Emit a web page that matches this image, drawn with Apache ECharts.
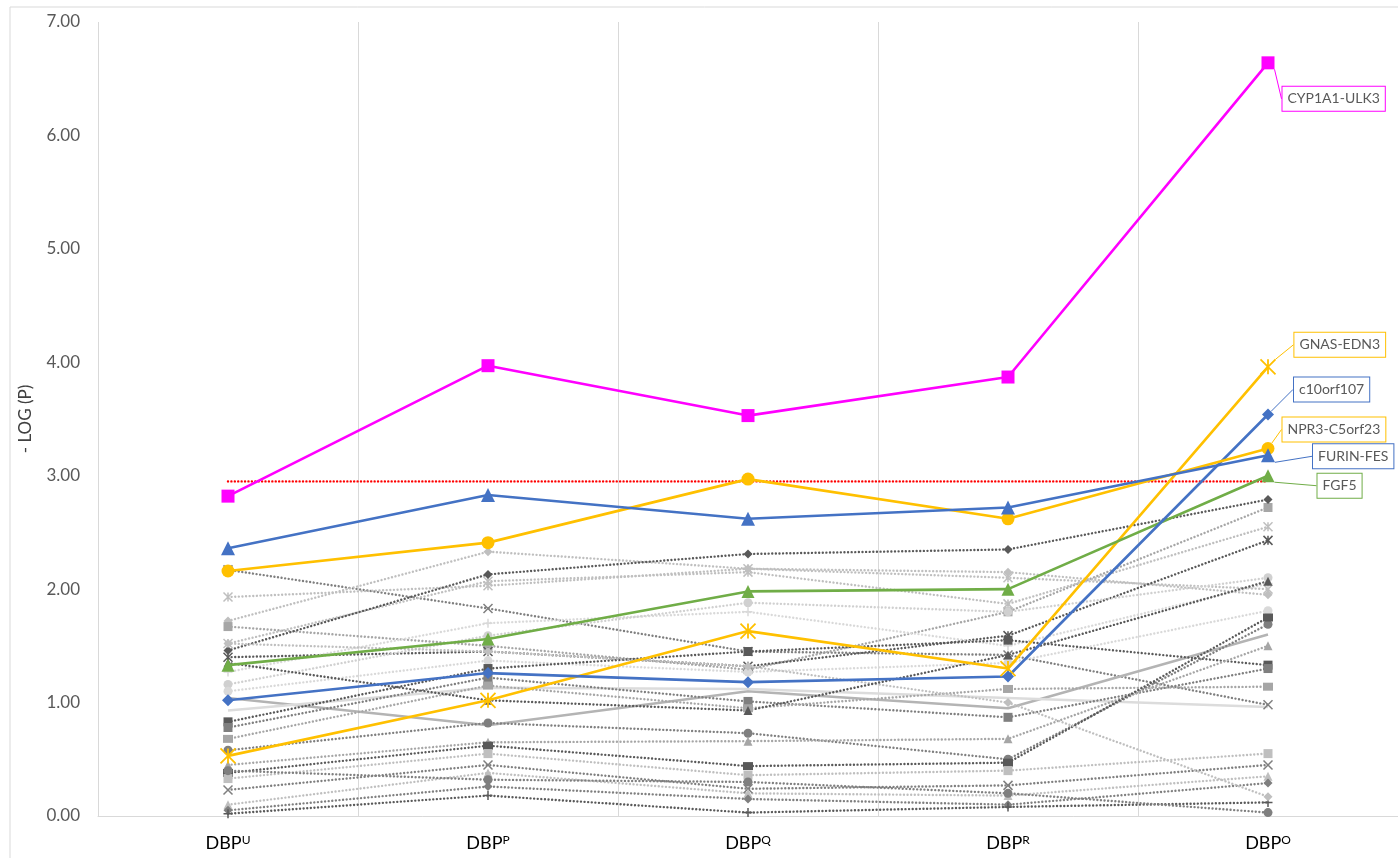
<!DOCTYPE html>
<html>
<head>
<meta charset="utf-8">
<script src="https://cdn.jsdelivr.net/npm/echarts@6/dist/echarts.min.js"></script>
<style>
  html, body { margin: 0; padding: 0; background: #fff; }
  #chart { width: 1398px; height: 858px; }
</style>
</head>
<body>
<div id="chart"></div>
<script>
// categories (superscript part of DBP)
var categories = ['U', 'P', 'Q', 'R', 'O'];

// highlighted genes
var cyp1a1 = [2.82, 3.97, 3.53, 3.87, 6.64];
var furin = [2.36, 2.83, 2.62, 2.72, 3.18];
var npr3 = [2.16, 2.41, 2.97, 2.62, 3.24];
var fgf5 = [1.33, 1.56, 1.98, 2.00, 3.00];
var c10orf107 = [1.02, 1.26, 1.18, 1.23, 3.54];
var gnas = [0.53, 1.02, 1.63, 1.30, 3.96];

// significance threshold
var threshold = [2.95, 2.95, 2.95, 2.95, 2.95];

// other loci (grey)
var grey01 = [2.17, 1.83, 1.45, 1.42, 0.98];
var grey02 = [1.93, 2.03, 2.18, 2.10, 2.00];
var grey03 = [1.72, 2.33, 2.18, 2.15, 1.95];
var grey04 = [1.67, 1.50, 1.29, 1.80, 2.72];
var grey05 = [1.52, 2.07, 2.15, 1.87, 2.55];
var grey06 = [1.46, 2.13, 2.31, 2.35, 2.79];
var grey07 = [1.40, 1.45, 1.32, 1.59, 2.43];
var grey08 = [1.27, 1.70, 1.80, 1.50, 2.05];
var grey09 = [1.16, 1.59, 1.88, 1.80, 2.10];
var grey10 = [1.10, 1.37, 1.27, 1.35, 1.81];
var grey11 = [1.04, 0.80, 1.10, 0.95, 1.60];
var grey12 = [0.93, 1.13, 1.12, 1.04, 0.96];
var grey13 = [0.83, 1.30, 1.45, 1.55, 1.33];
var grey14 = [0.78, 1.22, 1.01, 0.87, 1.30];
var grey15 = [0.68, 1.15, 0.95, 1.12, 1.14];
var grey16 = [0.58, 0.82, 0.73, 0.50, 1.69];
var grey17 = [0.45, 0.65, 0.66, 0.68, 1.50];
var grey18 = [0.38, 0.62, 0.44, 0.47, 1.75];
var grey19 = [0.33, 0.55, 0.36, 0.40, 0.55];
var grey20 = [0.23, 0.45, 0.24, 0.27, 0.45];
var grey21 = [0.10, 0.38, 0.20, 0.18, 0.35];
var grey22 = [0.05, 0.26, 0.15, 0.10, 0.29];
var grey23 = [0.02, 0.18, 0.03, 0.08, 0.12];
var grey24 = [1.52, 1.45, 1.32, 1.00, 0.17];
var grey25 = [0.40, 0.32, 0.30, 0.20, 0.03];
var grey26 = [1.35, 1.02, 0.93, 1.42, 2.07];

var FONT = 'Lato, "Noto Sans", sans-serif';

var X_PATH = 'path://M0,0 L10,10 M10,0 L0,10';
var PLUS_PATH = 'path://M5,0 L5,10 M0,5 L10,5';
var STAR_PATH = 'path://M0,0 L10,10 M10,0 L0,10 M5,0 L5,10';
var DASH_PATH = 'path://M0,4 L10,4 L10,6 L0,6 Z';

// grey series: values + look
var greys = [
    [grey01, '#7f7f7f', X_PATH, false],
    [grey02, '#bfbfbf', STAR_PATH, false],
    [grey03, '#bfbfbf', 'diamond', false],
    [grey04, '#a6a6a6', 'rect', false],
    [grey05, '#bfbfbf', STAR_PATH, false],
    [grey06, '#595959', 'diamond', false],
    [grey07, '#595959', STAR_PATH, false],
    [grey08, '#d9d9d9', PLUS_PATH, false],
    [grey09, '#d0d0d0', 'circle', false],
    [grey10, '#d9d9d9', 'circle', false],
    [grey11, '#b4b4b4', 'none', true],
    [grey12, '#dcdcdc', 'none', true],
    [grey13, '#595959', 'rect', false],
    [grey14, '#7f7f7f', 'rect', false],
    [grey15, '#a6a6a6', DASH_PATH, false],
    [grey16, '#7f7f7f', 'circle', false],
    [grey17, '#a6a6a6', 'triangle', false],
    [grey18, '#595959', DASH_PATH, false],
    [grey19, '#bfbfbf', 'rect', false],
    [grey20, '#7f7f7f', X_PATH, false],
    [grey21, '#bfbfbf', 'triangle', false],
    [grey22, '#7f7f7f', 'diamond', false],
    [grey23, '#595959', PLUS_PATH, false],
    [grey24, '#bfbfbf', 'diamond', false],
    [grey25, '#7f7f7f', 'circle', false],
    [grey26, '#595959', 'triangle', false]
];

var series = [];
greys.forEach(function (g, i) {
    var isPath = typeof g[2] === 'string' && g[2].indexOf('path://') === 0 && g[2] !== DASH_PATH;
    series.push({
        name: 'grey' + i,
        type: 'line',
        data: g[0],
        symbol: g[2],
        symbolSize: g[2] === DASH_PATH ? [10, 8] : 9,
        z: 2,
        itemStyle: {
            color: isPath ? 'rgba(0,0,0,0)' : g[1],
            borderColor: g[1],
            borderWidth: isPath ? 1.5 : 0
        },
        lineStyle: {
            color: g[1],
            width: g[3] ? 2.5 : 2.4,
            type: g[3] ? 'solid' : [0.01, 3.6],
            cap: g[3] ? 'butt' : 'round'
        }
    });
});

function labelled(values, name, color) {
    return values.map(function (v, i) {
        if (i !== values.length - 1) return v;
        return {
            value: v,
            label: {
                show: true,
                position: 'right',
                formatter: name,
                color: '#595959',
                fontFamily: FONT,
                fontSize: 14,
                backgroundColor: '#fff',
                borderColor: color,
                borderWidth: 1,
                padding: [5, 5]
            }
        };
    });
}

var highlights = [
    ['GNAS-EDN3', gnas, '#ffc000', STAR_PATH, 15, {dx: 13, dy: -22}],
    ['FGF5', fgf5, '#70ad47', 'triangle', 13, {dx: 38, dy: 10}],
    ['c10orf107', c10orf107, '#4472c4', 'diamond', 12, {dx: 15, dy: -25}],
    ['NPR3-C5orf23', npr3, '#ffc000', 'circle', 13, {dx: 3, dy: -19}],
    ['FURIN-FES', furin, '#4472c4', 'triangle', 14, {dx: 33, dy: 1}],
    ['CYP1A1-ULK3', cyp1a1, '#ff00ff', 'rect', 13, {dx: 3, dy: 36}]
];

series.push({
    name: 'threshold',
    type: 'line',
    data: threshold,
    symbol: 'none',
    z: 3,
    lineStyle: { color: '#ff0000', width: 2.4, type: [0.01, 3.4], cap: 'round' }
});

highlights.forEach(function (h) {
    var isPath = h[3].indexOf('path://') === 0;
    series.push({
        name: h[0],
        type: 'line',
        data: labelled(h[1], h[0], h[2]),
        symbol: h[3],
        symbolSize: h[4],
        z: 5,
        itemStyle: {
            color: isPath ? 'rgba(0,0,0,0)' : h[2],
            borderColor: h[2],
            borderWidth: isPath ? 1.8 : 0
        },
        lineStyle: { color: h[2], width: 2.6 },
        labelLayout: h[5],
        labelLine: { show: true, lineStyle: { color: h[2], width: 1 } }
    });
});

var option = {
    animation: false,
    backgroundColor: '#fff',
    textStyle: { fontFamily: FONT },
    grid: { left: 98, right: 0, top: 22, bottom: 42 },
    graphic: [{
        type: 'rect',
        shape: { x: 10, y: 7, width: 1400, height: 870 },
        style: { fill: 'none', stroke: '#d9d9d9', lineWidth: 1 },
        silent: true
    }],
    xAxis: {
        type: 'category',
        data: categories,
        boundaryGap: true,
        axisLine: { show: true, lineStyle: { color: '#d9d9d9', width: 1 } },
        axisTick: { show: false },
        splitLine: { show: true, lineStyle: { color: '#d9d9d9', width: 1 } },
        axisLabel: {
            margin: 18,
            formatter: function (v) { return '{b|DBP}{s|' + v + '}'; },
            rich: {
                b: { fontFamily: FONT, fontSize: 18, color: '#000' },
                s: { fontFamily: FONT, fontSize: 12, color: '#000', padding: [0, 0, 7, 0] }
            }
        }
    },
    yAxis: {
        type: 'value',
        min: 0,
        max: 7,
        interval: 1,
        name: '- LOG (P)',
        nameLocation: 'middle',
        nameGap: 64,
        nameTextStyle: { fontFamily: FONT, fontSize: 17, color: '#404040' },
        axisLine: { show: false },
        axisTick: { show: false },
        splitLine: { show: false },
        axisLabel: {
            margin: 18,
            fontFamily: FONT,
            fontSize: 17,
            color: '#595959',
            formatter: function (v) { return v.toFixed(2); }
        }
    },
    series: series
};

var myChart = echarts.init(document.getElementById('chart'));
myChart.setOption(option);
</script>
</body>
</html>
